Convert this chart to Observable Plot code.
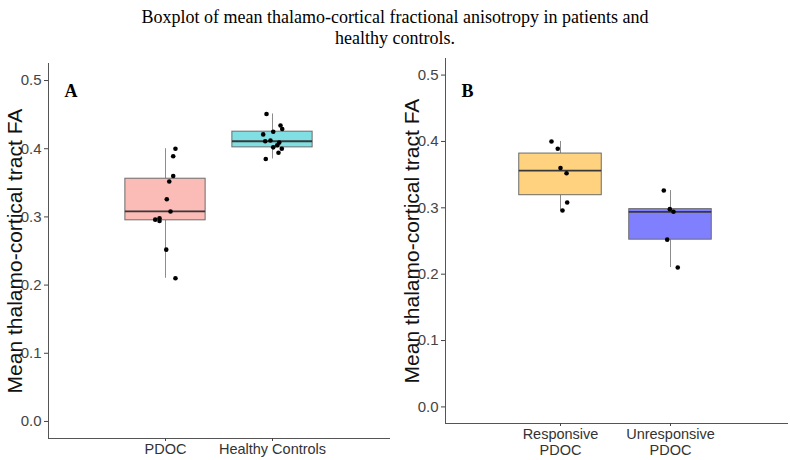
<!DOCTYPE html>
<html><head><meta charset="utf-8">
<script src="https://cdn.jsdelivr.net/npm/d3@7"></script>
<script src="https://cdn.jsdelivr.net/npm/@observablehq/plot@0.6"></script>
<style>
body{margin:0;background:#fff;width:790px;height:460px;overflow:hidden}
#title{height:55px;box-sizing:border-box;padding-top:7px;text-align:center;font:18px/21px "Liberation Serif","Times New Roman",serif;color:#000}
#row{display:flex}
</style></head><body>
<div id="title">Boxplot of mean thalamo-cortical fractional anisotropy in patients and<br>healthy controls.</div>
<div id="row"></div>
<script>
// ---- data ----
const groupsA = ["PDOC", "Healthy Controls"];
const pdocFA = [0.400, 0.389, 0.360, 0.352, 0.326, 0.308, 0.298, 0.296, 0.294, 0.252, 0.210];
const pdocJitter = [0.093, 0.072, 0.072, 0.035, 0.012, 0.047, -0.056, -0.096, -0.056, 0.007, 0.093];
const healthyFA = [0.451, 0.434, 0.429, 0.425, 0.421, 0.412, 0.411, 0.409, 0.405, 0.402, 0.400, 0.394, 0.385];
const healthyJitter = [-0.056, 0.075, 0.091, 0.007, -0.087, -0.019, -0.068, 0.063, 0.044, 0.007, 0.087, 0.056, -0.063];

const groupsB = ["Responsive\nPDOC", "Unresponsive\nPDOC"];
const responsiveFA = [0.400, 0.389, 0.360, 0.352, 0.308, 0.296];
const responsiveJitter = [-0.082, -0.025, 0.000, 0.055, 0.061, 0.018];
const unresponsiveFA = [0.326, 0.298, 0.294, 0.252, 0.210];
const unresponsiveJitter = [-0.061, -0.006, 0.027, -0.030, 0.066];

const yTicks = [0, 0.1, 0.2, 0.3, 0.4, 0.5];
const colorsA = ["#FBBBB6", "#80DFE2"];
const colorsB = ["#FFD280", "#8080FF"];

function stats(values, pos, color) {
  const v = values.slice().sort(d3.ascending);
  const q1 = d3.quantile(v, 0.25), med = d3.quantile(v, 0.5), q3 = d3.quantile(v, 0.75);
  const iqr = q3 - q1;
  const lo = d3.min(v.filter(d => d >= q1 - 1.5 * iqr));
  const hi = d3.max(v.filter(d => d <= q3 + 1.5 * iqr));
  return {pos, q1, med, q3, lo, hi, color};
}

function panel({groups, series, jitters, colors, letter, xDomain, marginLeft, marginRight, marginTop, marginBottom}) {
  const yDomain = [-0.025, 0.525];
  const boxes = series.map((s, i) => stats(s, i + 1, colors[i]));
  const points = series.flatMap((s, i) => s.map((y, j) => ({x: i + 1 + jitters[i][j], y})));
  const hw = 0.375;
  return Plot.plot({
    width: 395, height: 405,
    marginLeft, marginRight, marginTop, marginBottom,
    style: {fontFamily: "'Liberation Sans', Arial, sans-serif", background: "transparent", overflow: "visible"},
    x: {domain: xDomain},
    y: {domain: yDomain},
    color: {type: "identity"},
    marks: [
      Plot.ruleX(boxes, {x: "pos", y1: "q3", y2: "hi", stroke: "#8c8c8c", strokeWidth: 1}),
      Plot.ruleX(boxes, {x: "pos", y1: "lo", y2: "q1", stroke: "#8c8c8c", strokeWidth: 1}),
      Plot.rect(boxes, {x1: d => d.pos - hw, x2: d => d.pos + hw, y1: "q1", y2: "q3", fill: "color", stroke: "#6b6b6b", strokeWidth: 1}),
      Plot.ruleY(boxes, {y: "med", x1: d => d.pos - hw, x2: d => d.pos + hw, stroke: "#383838", strokeWidth: 1.8}),
      Plot.dot(points, {x: "x", y: "y", r: 2.3, fill: "black", stroke: "none"}),
      Plot.ruleX([xDomain[0]], {stroke: "#555", strokeWidth: 1}),
      Plot.ruleY([yDomain[0]], {stroke: "#555", strokeWidth: 1}),
      Plot.axisY(yTicks, {tickFormat: d3.format(".1f"), tickSize: 4, tickPadding: 3, fontSize: 15, fill: "#444", stroke: "#444", label: null}),
      Plot.axisX([1, 2], {tickFormat: d => groups[d - 1], tickSize: 3, tickPadding: 1, fontSize: 14.5, fill: "#333", stroke: "#444", lineHeight: 1.12, label: null}),
      Plot.text(["Mean thalamo-cortical tract FA"], {frameAnchor: "left", textAnchor: "middle", rotate: -90, dx: -33, fontSize: 21, fill: "#111"}),
      Plot.text([letter], {frameAnchor: "top-left", textAnchor: "start", dx: 16, dy: letter === "A" ? 21 : 26, fontSize: 18, fontWeight: "bold", fontFamily: "'Liberation Serif', 'Times New Roman', serif", fill: "#000"})
    ]
  });
}

const row = document.getElementById("row");
row.append(panel({
  groups: groupsA, series: [pdocFA, healthyFA], jitters: [pdocJitter, healthyJitter], colors: colorsA, letter: "A",
  xDomain: [1 - 117 / 107, 2 + 118 / 107], marginLeft: 48, marginRight: 5, marginTop: 8, marginBottom: 22
}));
row.append(panel({
  groups: groupsB, series: [responsiveFA, unresponsiveFA], jitters: [responsiveJitter, unresponsiveJitter], colors: colorsB, letter: "B",
  xDomain: [1 - 115 / 110, 2 + 118 / 110], marginLeft: 50, marginRight: 2, marginTop: 3, marginBottom: 37
}));
</script>
</body></html>
